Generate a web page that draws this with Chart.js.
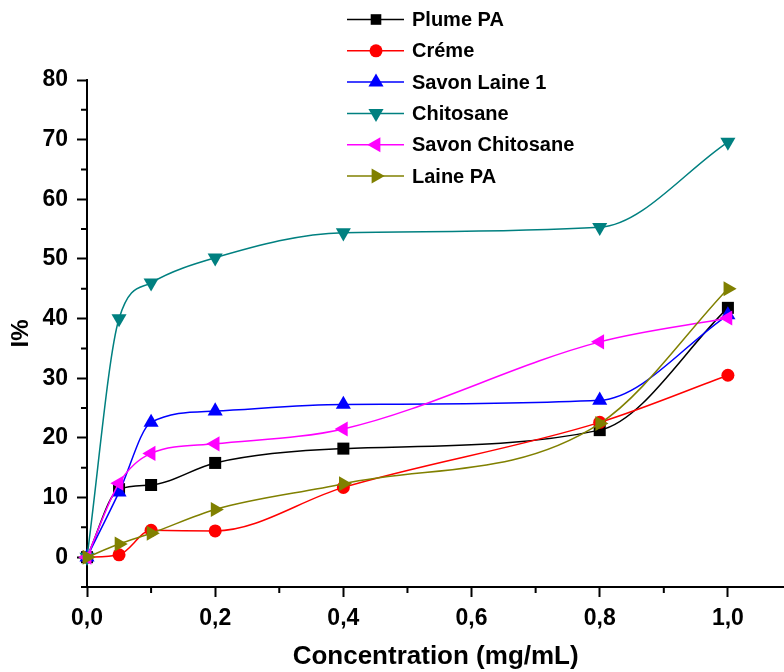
<!DOCTYPE html>
<html lang="fr">
<head>
  <meta charset="UTF-8" />
  <title>I% vs Concentration</title>
  <script src="https://cdn.jsdelivr.net/npm/chart.js"></script>
  <style>
    html, body {
      margin: 0;
      padding: 0;
      background: #fff;
      overflow: hidden;
    }
    .wrap {
      width: 793px;
      height: 672px;
      position: relative;
    }
  </style>
</head>
<body>
  <div class="wrap">
    <canvas id="chart"></canvas>
  </div>

  <script>
    // concentrations (mg/mL)
    const concentrations = [0, 0.05, 0.1, 0.2, 0.4, 0.8, 1.0];

    // I% per sample
    const plumePA        = [0, 11.4, 12.1, 15.8, 18.2, 21.3, 41.8];
    const creme          = [0, 0.4, 4.5, 4.4, 11.7, 22.6, 30.5];
    const savonLaine1    = [0, 10.9, 22.6, 24.5, 25.6, 26.3, 40.6];
    const chitosane      = [0, 40.0, 46.0, 50.2, 54.4, 55.3, 69.6];
    const savonChitosane = [0, 12.4, 17.4, 19.0, 21.5, 36.1, 40.1];
    const lainePA        = [0, 2.2, 4.0, 8.0, 12.3, 22.4, 45.0];

    const seriesNames = ['Plume PA', 'Créme', 'Savon Laine 1', 'Chitosane', 'Savon Chitosane', 'Laine PA'];
    const seriesValues = [plumePA, creme, savonLaine1, chitosane, savonChitosane, lainePA];
    const seriesColors = ['#000000', '#ff0000', '#0000ff', '#008080', '#ff00ff', '#808000'];
    const seriesStyles = [
      { pointStyle: 'rect', rotation: 0, radius: 8.5 },
      { pointStyle: 'circle', rotation: 0, radius: 6.5 },
      { pointStyle: 'triangle', rotation: 0, radius: 8.7 },
      { pointStyle: 'triangle', rotation: 180, radius: 8.7 },
      { pointStyle: 'triangle', rotation: 270, radius: 8.7 },
      { pointStyle: 'triangle', rotation: 90, radius: 8.7 }
    ];

    const yTickLabels = [0, 10, 20, 30, 40, 50, 60, 70, 80];
    const xTickLabels = [0, 0.2, 0.4, 0.6, 0.8, 1.0];

    const isXMajor = v => xTickLabels.some(t => Math.abs(t - v) < 1e-6);
    const isYMajor = v => yTickLabels.some(t => Math.abs(t - v) < 1e-6);

    const datasets = seriesNames.map((name, i) => ({
      label: name,
      data: concentrations.map((c, j) => ({ x: c, y: seriesValues[i][j] })),
      borderColor: seriesColors[i],
      backgroundColor: seriesColors[i],
      borderWidth: 1.5,
      cubicInterpolationMode: 'monotone',
      pointStyle: seriesStyles[i].pointStyle,
      rotation: seriesStyles[i].rotation,
      pointRadius: seriesStyles[i].radius,
      pointHoverRadius: seriesStyles[i].radius,
      pointBorderWidth: 0,
      order: seriesNames.length - i,
      clip: false
    }));

    // short ticks between the labelled ones
    const minorTicks = {
      id: 'minorTicks',
      afterDraw(chart) {
        const { ctx } = chart;
        const xs = chart.scales.x;
        const ys = chart.scales.y;
        ctx.save();
        ctx.strokeStyle = '#000';
        ctx.lineWidth = 2;
        ctx.beginPath();
        xs.ticks.forEach(t => {
          if (isXMajor(t.value)) return;
          const px = xs.getPixelForValue(t.value);
          ctx.moveTo(px, xs.top);
          ctx.lineTo(px, xs.top + 6);
        });
        ys.ticks.forEach(t => {
          if (isYMajor(t.value)) return;
          const py = ys.getPixelForValue(t.value);
          ctx.moveTo(ys.right - 6, py);
          ctx.lineTo(ys.right, py);
        });
        ctx.stroke();
        ctx.restore();
      }
    };

    // legend block like the original plot
    const boxLegend = {
      id: 'boxLegend',
      afterDraw(chart) {
        const { ctx } = chart;
        ctx.save();
        ctx.font = 'bold 20px "Liberation Sans", Arial, sans-serif';
        ctx.textBaseline = 'middle';
        ctx.textAlign = 'left';
        chart.data.datasets.forEach((ds, i) => {
          const y = 19.5 + i * 31.3;
          ctx.strokeStyle = ds.borderColor;
          ctx.lineWidth = 1.5;
          ctx.beginPath();
          ctx.moveTo(347, y);
          ctx.lineTo(404, y);
          ctx.stroke();
          ctx.fillStyle = ds.backgroundColor;
          Chart.helpers.drawPoint(ctx, {
            pointStyle: ds.pointStyle,
            rotation: ds.rotation,
            radius: ds.pointStyle === 'rect' ? 7.5 : ds.pointRadius,
            borderWidth: 0
          }, 376, y);
          ctx.fillStyle = '#000';
          ctx.fillText(ds.label, 412, y + 1);
        });
        ctx.restore();
      }
    };

    const tickFont = { family: '"Liberation Sans", Arial, sans-serif', size: 23, weight: 'bold' };
    const titleFont = { family: '"Liberation Sans", Arial, sans-serif', size: 26, weight: 'bold' };

    new Chart(document.getElementById('chart'), {
      type: 'line',
      data: { datasets },
      plugins: [minorTicks, boxLegend],
      options: {
        responsive: true,
        maintainAspectRatio: false,
        animation: false,
        layout: { padding: { top: 80, right: 0, left: 0, bottom: 0 } },
        plugins: {
          legend: { display: false },
          tooltip: { enabled: false }
        },
        scales: {
          x: {
            type: 'linear',
            min: 0,
            max: 1.088,
            afterFit: s => { s.height = 85; },
            border: { display: true, color: '#000', width: 2 },
            grid: {
              drawOnChartArea: false,
              drawTicks: true,
              tickLength: 10,
              tickWidth: 2,
              tickColor: c => (c.tick && isXMajor(c.tick.value)) ? '#000' : 'rgba(0,0,0,0)'
            },
            ticks: {
              stepSize: 0.1,
              includeBounds: false,
              autoSkip: false,
              maxRotation: 0,
              padding: 8,
              color: '#000',
              font: tickFont,
              callback: v => isXMajor(v) ? v.toFixed(1).replace('.', ',') : ''
            },
            title: {
              display: true,
              text: 'Concentration (mg/mL)',
              color: '#000',
              font: titleFont,
              padding: { top: 0, bottom: 0 }
            }
          },
          y: {
            type: 'linear',
            min: -5,
            max: 80,
            afterFit: s => { s.width = 87; },
            border: { display: true, color: '#000', width: 2 },
            grid: {
              drawOnChartArea: false,
              drawTicks: true,
              tickLength: 10,
              tickWidth: 2,
              tickColor: c => (c.tick && isYMajor(c.tick.value)) ? '#000' : 'rgba(0,0,0,0)'
            },
            ticks: {
              stepSize: 5,
              autoSkip: false,
              padding: 9,
              color: '#000',
              font: tickFont,
              callback: v => isYMajor(v) ? String(v) : ''
            },
            title: {
              display: true,
              text: 'I%',
              color: '#000',
              font: { family: '"Liberation Sans", Arial, sans-serif', size: 24, weight: 'bold' },
              padding: { top: 7, bottom: 0 }
            }
          }
        }
      }
    });
  </script>
</body>
</html>
